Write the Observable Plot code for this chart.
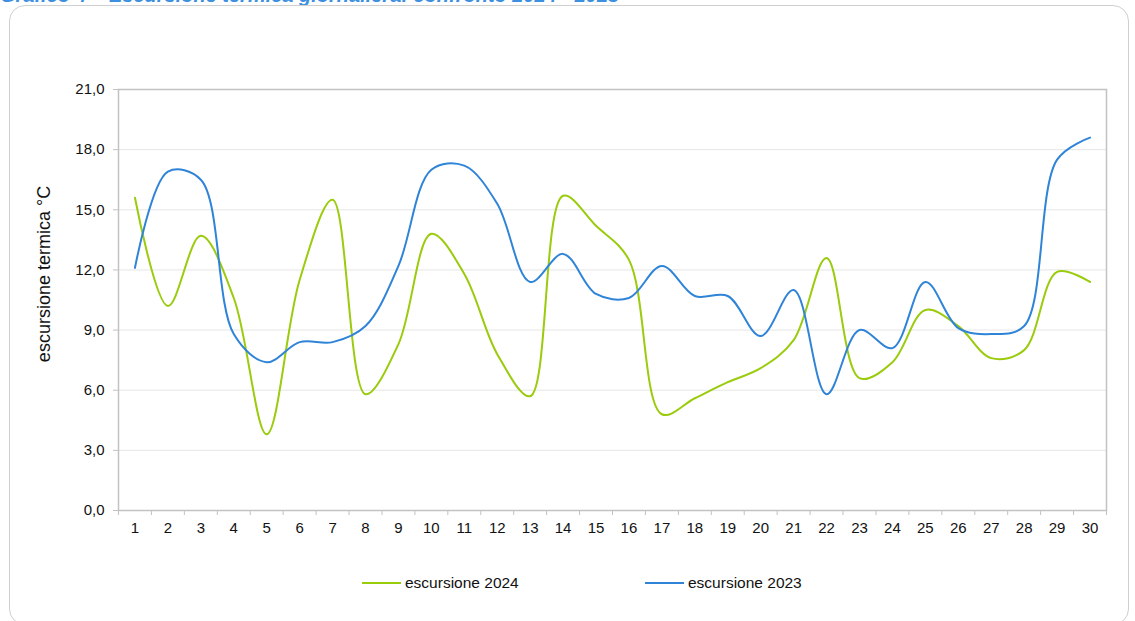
<!DOCTYPE html>
<html><head><meta charset="utf-8">
<script src="https://cdn.jsdelivr.net/npm/d3@7"></script>
<script src="https://cdn.jsdelivr.net/npm/@observablehq/plot@0.6"></script>
<style>
body{margin:0;background:#fff;font-family:"Liberation Sans",Arial,sans-serif;width:1135px;height:621px;overflow:hidden;position:relative}
#title{position:absolute;left:0;top:-16px;color:#3d8fe0;font-style:italic;font-weight:bold;font-size:20px;white-space:nowrap}
#card{position:absolute;left:9px;top:5px;width:1120px;height:620px;border:1.5px solid #cfcfcf;border-radius:16px;box-sizing:border-box}
#chart{position:absolute;left:0;top:0}
#legend{position:absolute;top:574px;left:0;width:1135px;font-size:15.5px;color:#111}
.li{position:absolute;display:flex;align-items:center}
.sw{width:39px;height:2px;margin-right:4px}
</style></head>
<body>
<div id="title">Grafico 4 – Escursione termica giornaliera: confronto 2024 - 2023</div>
<div id="card"></div>
<div id="chart"></div>
<div id="legend">
  <div class="li" style="left:362px"><div class="sw" style="background:#9acb0c"></div>escursione 2024</div>
  <div class="li" style="left:645px"><div class="sw" style="background:#2f84d8"></div>escursione 2023</div>
</div>
<script>
const days = d3.range(1, 31);
const esc2024 = [15.6,10.2,13.7,10.6,3.8,11.5,15.5,5.8,8.3,13.8,11.8,7.8,5.7,15.7,14.2,12.5,4.8,5.6,6.4,7.1,8.5,12.6,6.6,7.4,10.0,9.2,7.6,8.0,11.9,11.4];
const esc2023 = [12.1,16.9,16.5,8.8,7.4,8.4,8.4,9.2,12.2,17.0,17.2,15.3,11.4,12.8,10.8,10.6,12.2,10.7,10.7,8.7,11.0,5.8,9.0,8.1,11.4,9.1,8.8,9.2,17.5,18.6];
const yTicks = [0,3,6,9,12,15,18,21];
const seriesNames = ["escursione 2024","escursione 2023"];
const colors = ["#9acb0c","#2f84d8"];

const data = [];
days.forEach((d,i)=>{
  data.push({day:d, value:esc2024[i], serie:seriesNames[0]});
  data.push({day:d, value:esc2023[i], serie:seriesNames[1]});
});
const fmt = v => v.toFixed(1).replace(".", ",");
const bounds = d3.range(0.5, 31, 1);

const chart = Plot.plot({
  width:1135, height:545,
  marginLeft:118, marginRight:29, marginTop:89, marginBottom:35,
  style:{fontFamily:'"Liberation Sans",Arial,sans-serif', fontSize:"15px", color:"#111", background:"transparent"},
  x:{type:"linear", domain:[0.5,30.5]},
  y:{domain:[0,21]},
  color:{domain:seriesNames, range:colors},
  marks:[
    Plot.gridY(yTicks, {stroke:"#e6e6e6", strokeOpacity:1}),
    Plot.frame({stroke:"#c2c2c2", strokeWidth:1.5}),
    Plot.axisY(yTicks, {tickFormat:fmt, tickSize:5, tickPadding:9, stroke:"#c2c2c2", fontSize:15, label:null}),
    Plot.axisX(bounds, {tickFormat:()=>"", tickSize:5, stroke:"#c2c2c2", label:null}),
    Plot.axisX(days, {tickSize:0, tickPadding:12, fontSize:15, label:null}),
    Plot.text(["escursione termica °C"], {frameAnchor:"left", textAnchor:"middle", dx:-74, dy:-26, rotate:-90, fontSize:18, fill:"#111"}),
    Plot.line(data, {x:"day", y:"value", z:"serie", stroke:"serie", strokeWidth:2, curve:"catmull-rom"})
  ]
});
document.getElementById("chart").appendChild(chart);
</script>
</body></html>
